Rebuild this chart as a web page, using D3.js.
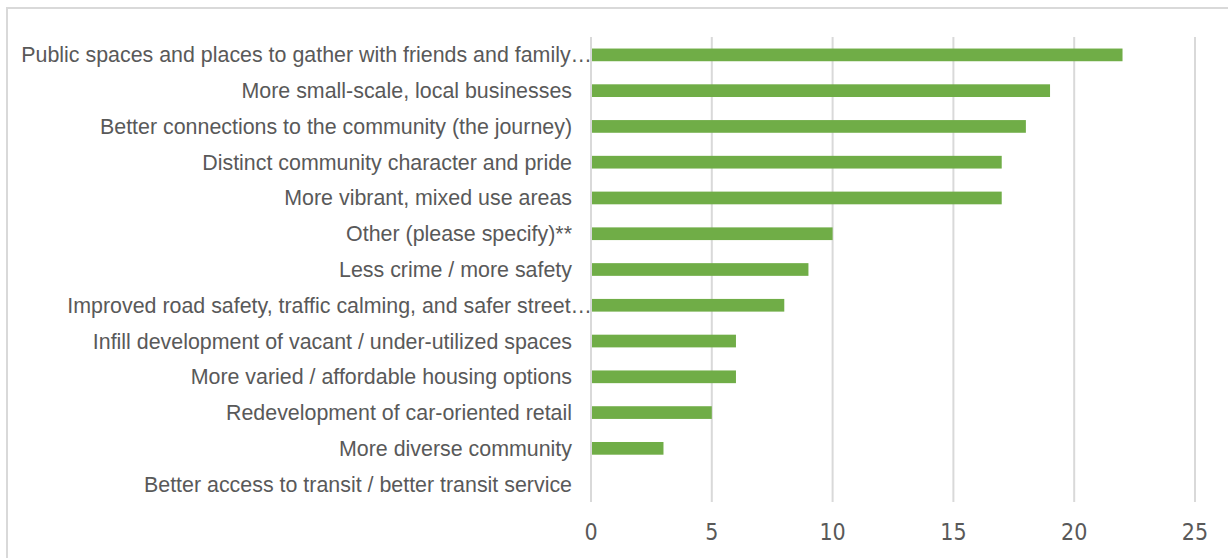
<!DOCTYPE html>
<html>
<head>
<meta charset="utf-8">
<script src="https://cdn.jsdelivr.net/npm/d3@7"></script>
<style>
  body { margin: 0; background: #fff; }
  svg { display: block; }
  .cat-label { font-family: "Liberation Sans", Arial, sans-serif; font-size: 21.4px; fill: #595959; }
  .tick-label { font-family: "Liberation Sans Narrow", "Arial Narrow", "DejaVu Sans Condensed", sans-serif; font-size: 23px; fill: #595959; }
</style>
</head>
<body>
<div id="chart"></div>
<script>
// Categories, top to bottom
var categories = [
    "Public spaces and places to gather with friends and family…",
    "More small-scale, local businesses",
    "Better connections to the community (the journey)",
    "Distinct community character and pride",
    "More vibrant, mixed use areas",
    "Other (please specify)**",
    "Less crime / more safety",
    "Improved road safety, traffic calming, and safer street…",
    "Infill development of vacant / under-utilized spaces",
    "More varied / affordable housing options",
    "Redevelopment of car-oriented retail",
    "More diverse community",
    "Better access to transit / better transit service"
];

var counts = [22, 19, 18, 17, 17, 10, 9, 8, 6, 6, 5, 3, 0];

var tickValues = [0, 5, 10, 15, 20, 25];

var width = 1228, height = 558;

var svg = d3.select("#chart").append("svg")
    .attr("width", width)
    .attr("height", height);

// Chart border (runs off right / bottom edge)
svg.append("rect")
    .attr("x", 7)
    .attr("y", 8)
    .attr("width", 1240)
    .attr("height", 570)
    .attr("fill", "none")
    .attr("stroke", "#d9d9d9")
    .attr("stroke-width", 2);

var data = categories.map(function(c, i) { return { cat: c, value: counts[i] }; });

// Scales
var x = d3.scaleLinear()
    .domain([0, 25])
    .range([591, 1195]);

var y = d3.scaleBand()
    .domain(categories)
    .range([37, 502])
    .paddingInner(0.645)
    .paddingOuter(0.3225);

// Gridlines
svg.append("g")
    .selectAll("line")
    .data(tickValues)
    .enter()
    .append("line")
    .attr("x1", function(d) { return x(d); })
    .attr("x2", function(d) { return x(d); })
    .attr("y1", 37)
    .attr("y2", 502)
    .attr("stroke", "#d9d9d9")
    .attr("stroke-width", 2);

// Bars
svg.append("g")
    .selectAll("rect")
    .data(data)
    .enter()
    .append("rect")
    .attr("x", x(0) + 1)
    .attr("y", function(d) { return y(d.cat); })
    .attr("width", function(d) { return Math.max(0, x(d.value) - x(0) - 1); })
    .attr("height", y.bandwidth())
    .attr("fill", "#70ad47");

// Category labels
svg.append("g")
    .selectAll("text")
    .data(data)
    .enter()
    .append("text")
    .attr("class", "cat-label")
    .attr("x", function(d) { return d.cat.slice(-1) === "…" ? 592 : 572; })
    .attr("y", function(d) { return y(d.cat) + y.bandwidth() / 2; })
    .attr("dy", "0.35em")
    .attr("text-anchor", "end")
    .text(function(d) { return d.cat; });

// X tick labels
svg.append("g")
    .selectAll("text")
    .data(tickValues)
    .enter()
    .append("text")
    .attr("class", "tick-label")
    .attr("x", function(d) { return x(d); })
    .attr("y", 532)
    .attr("dy", "0.35em")
    .attr("text-anchor", "middle")
    .text(function(d) { return d; });
</script>
</body>
</html>
